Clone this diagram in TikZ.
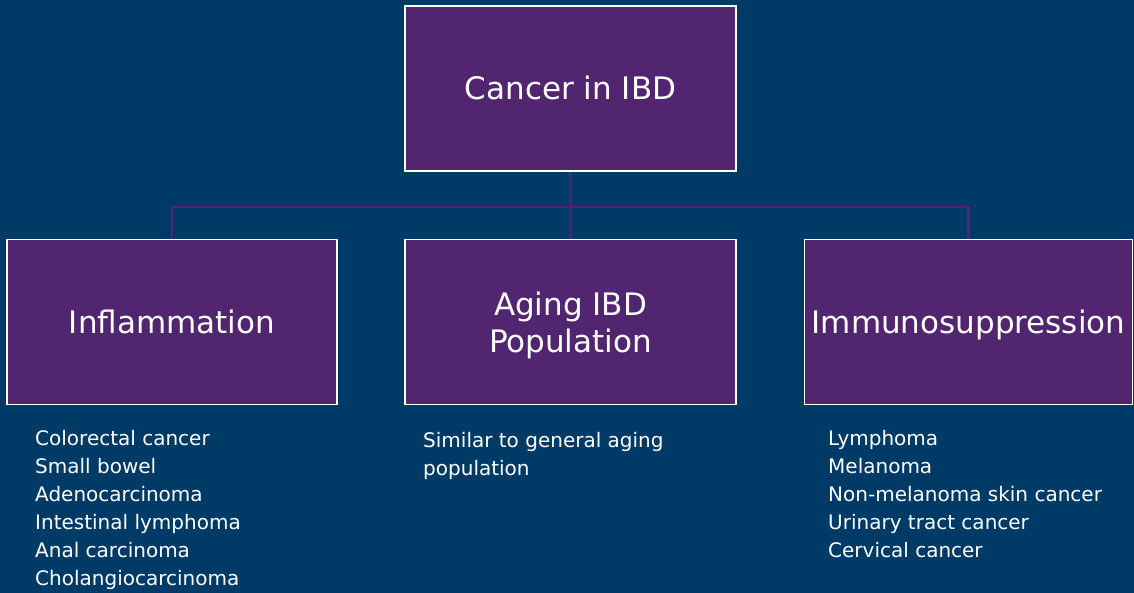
\documentclass[tikz,border=0pt]{standalone}
\usepackage{fontspec}
\setmainfont{DejaVu Sans}
\usetikzlibrary{positioning,calc}

\definecolor{slateblue}{RGB}{0,59,104}
\definecolor{plum}{RGB}{82,37,112}

\begin{document}
\begin{tikzpicture}[x=1pt, y=-1pt,
        box/.style={draw=white, line width=1.8pt, fill=plum, text=white, align=center,
            minimum width=330pt, minimum height=165pt, inner sep=0pt,
            font=\fontsize{31}{37}\selectfont},
        oneline/.style={text height=29pt, text depth=7pt},
        items/.style={text=white, align=left, anchor=north west, inner sep=0pt,
            font=\fontsize{20}{28}\selectfont},
        link/.style={draw=plum, line width=2.2pt}]
    % background
    \fill[slateblue] (0,0) rectangle (1134,593);

    % top box and the three branches
    \node[box, oneline, minimum width=331pt] (root) at (570.5,88.5) {Cancer in IBD};
    \node[box, oneline] (inflam) at (172,322) {Inflammation};
    \node[box, minimum width=331pt] (aging) at (570.5,322) {\rule{0pt}{30pt}Aging IBD\\Population};
    \node[box, oneline, minimum width=328pt] (immuno) at (968.5,322) {Immunosuppression};

    % connectors - all branches meet at one junction below the root
    \coordinate (junction) at ($(root.south)+(0,35)$);
    \draw[link] (root.south) -- (junction);
    \draw[link] (inflam.north) |- (junction) -| (immuno.north);
    \draw[link] (junction) -- (aging.north);

    % lists under each branch
    \node[items] (inflamlist) at (35,430) {Colorectal cancer\\Small bowel\\Adenocarcinoma\\Intestinal lymphoma\\Anal carcinoma\\Cholangiocarcinoma};
    \node[items] (aginglist) at (423,432) {Similar to general aging\\population};
    \node[items] (immunolist) at (828,430) {Lymphoma\\Melanoma\\Non-melanoma skin cancer\\Urinary tract cancer\\Cervical cancer};
\end{tikzpicture}
\end{document}
